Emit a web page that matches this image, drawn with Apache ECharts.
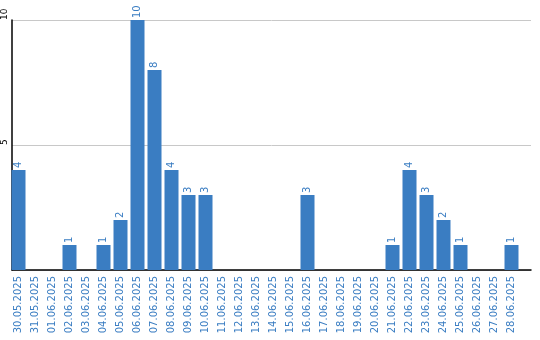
<!DOCTYPE html>
<html>
<head>
<meta charset="utf-8">
<script src="https://cdn.jsdelivr.net/npm/echarts@6/dist/echarts.min.js"></script>
<style>html,body{margin:0;padding:0;background:#fff}#c{width:540px;height:340px}</style>
</head>
<body>
<div id="c"></div>
<script>
const categories = ["30.05.2025","31.05.2025","01.06.2025","02.06.2025","03.06.2025","04.06.2025","05.06.2025","06.06.2025","07.06.2025","08.06.2025","09.06.2025","10.06.2025","11.06.2025","12.06.2025","13.06.2025","14.06.2025","15.06.2025","16.06.2025","17.06.2025","18.06.2025","19.06.2025","20.06.2025","21.06.2025","22.06.2025","23.06.2025","24.06.2025","25.06.2025","26.06.2025","27.06.2025","28.06.2025"];
const values = [4,0,0,1,0,1,2,10,8,4,3,3,0,0,0,0,0,3,0,0,0,0,1,4,3,2,1,0,0,1];
const yTicks = [0,5,10];

const blue = '#3a7dc2';
const chart = echarts.init(document.getElementById('c'), null, {renderer:'canvas'});
chart.setOption({
  animation:false,
  textStyle:{fontFamily:'DejaVu Sans'},
  grid:[
    {left:10, right:9, top:20, bottom:70},
    {left:10, width:510, top:20, bottom:70}
  ],
  xAxis:[
    {gridIndex:0, type:'value', min:0, max:1, axisLine:{show:true, onZero:false, lineStyle:{color:'#000', width:1.5}}, axisLabel:{show:false}, axisTick:{show:false}, splitLine:{show:false}},
    {gridIndex:1, type:'category', data:categories, boundaryGap:true, axisLine:{show:false}, axisTick:{show:false},
     axisLabel:{rotate:90, color:blue, fontSize:10, margin:6, interval:0, fontFamily:'DejaVu Sans'}}
  ],
  yAxis:[
    {gridIndex:0, type:'value', min:yTicks[0], max:yTicks[yTicks.length-1], interval:5,
     axisLine:{show:true, lineStyle:{color:'#000', width:1.5}}, axisTick:{show:false},
     splitLine:{show:true, lineStyle:{color:'#c8c8c8', width:1}},
     axisLabel:{rotate:90, color:'#000', fontSize:9, margin:3, align:'left', formatter:v=>v===0?'':String(v)}},
    {gridIndex:1, type:'value', min:yTicks[0], max:yTicks[yTicks.length-1], interval:5, show:false, splitLine:{show:false}}
  ],
  series:[{
    type:'bar', xAxisIndex:1, yAxisIndex:1, data:values.map(v=>v===0?null:v), barWidth:14,
    itemStyle:{color:blue},
    label:{show:true, position:'top', rotate:90, align:'left', verticalAlign:'middle', distance:2, color:blue, fontSize:10, fontFamily:'DejaVu Sans'}
  }]
});
</script>
</body>
</html>
